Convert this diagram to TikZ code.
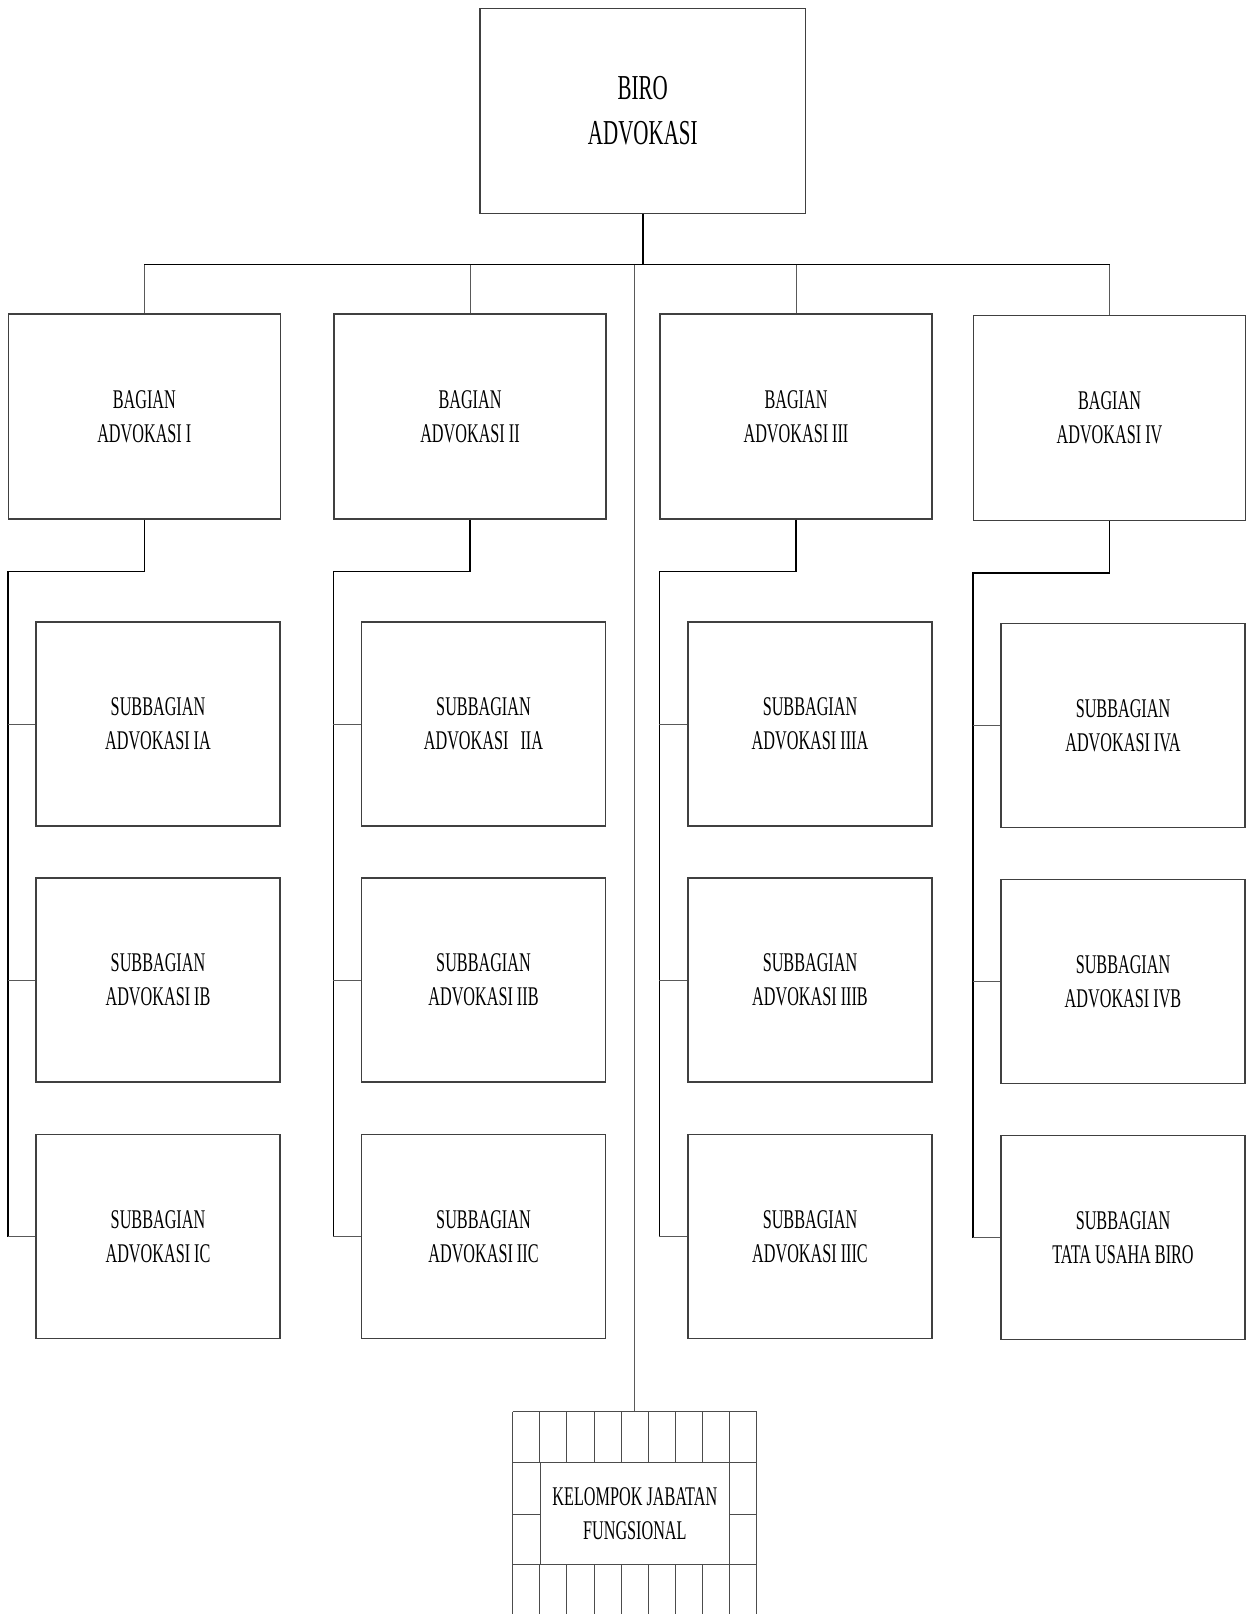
\documentclass[tikz,border=0pt]{standalone}
\usepackage{fontspec}
\newfontfamily\orgfont[FakeStretch=0.6]{Liberation Serif}
\begin{document}
\begin{tikzpicture}[x=1pt,y=-1pt,
  box/.style={draw=black!75, line width=1.1pt, rectangle, align=center, inner sep=0pt,
    font=\orgfont\fontsize{27}{34}\selectfont},
  bagbox/.style={box, minimum width=272pt, minimum height=205pt},
  subbox/.style={box, minimum width=244pt, minimum height=204pt},
  conn/.style={draw=black, line width=1.5pt},
  thin/.style={draw=black!65, line width=1pt},
  grid/.style={draw=black!70, line width=1pt}]
\useasboundingbox (0,0) rectangle (1248,1614);

% head of bureau
\node[box, minimum width=325.7pt, minimum height=204.7pt,
  font=\orgfont\fontsize{35}{45}\selectfont] (biro) at (642.8,110.7) {BIRO\\ADVOKASI};

% divisions
\node[bagbox] (b1) at (144.3,416.5) {BAGIAN\\ADVOKASI I};
\node[bagbox] (b2) at (470.0,416.5) {BAGIAN\\ADVOKASI II};
\node[bagbox] (b3) at (796.0,416.5) {BAGIAN\\ADVOKASI III};
\node[bagbox] (b4) at (1109.5,418.0) {BAGIAN\\ADVOKASI IV};

% subdivisions
\node[subbox] (s1a) at (158.0,724.0) {SUBBAGIAN\\ADVOKASI IA};
\node[subbox] (s1b) at (158.0,980.0) {SUBBAGIAN\\ADVOKASI IB};
\node[subbox] (s1c) at (158.0,1236.5) {SUBBAGIAN\\ADVOKASI IC};
\node[subbox] (s2a) at (483.5,724.0) {SUBBAGIAN\\ADVOKASI \ \ IIA};
\node[subbox] (s2b) at (483.5,980.0) {SUBBAGIAN\\ADVOKASI IIB};
\node[subbox] (s2c) at (483.5,1236.5) {SUBBAGIAN\\ADVOKASI IIC};
\node[subbox] (s3a) at (810.0,724.0) {SUBBAGIAN\\ADVOKASI IIIA};
\node[subbox] (s3b) at (810.0,980.0) {SUBBAGIAN\\ADVOKASI IIIB};
\node[subbox] (s3c) at (810.0,1236.5) {SUBBAGIAN\\ADVOKASI IIIC};
\node[subbox] (s4a) at (1123.0,725.5) {SUBBAGIAN\\ADVOKASI IVA};
\node[subbox] (s4b) at (1123.0,981.5) {SUBBAGIAN\\ADVOKASI IVB};
\node[subbox] (s4c) at (1123.0,1237.5) {SUBBAGIAN\\TATA USAHA BIRO};

% functional group (inner labelled panel)
\node[box, draw=black!70, line width=1pt, minimum width=189.7pt, minimum height=102pt] (kjf)
  at (634.85,1513.3) {KELOMPOK JABATAN\\FUNGSIONAL};

% main bus
\coordinate (bus) at (642.8,264.6);
\coordinate (kgtop) at (634.7,1411.7);
\draw[conn] (biro.south) -- (bus);
\draw[conn] (b1.north |- bus) -- (b4.north |- bus);
\foreach \b in {b1,b2,b3,b4}
  \draw[thin] (\b.north |- bus) -- (\b.north);
\draw[thin] (kgtop |- bus) -- (kgtop);

% division to subdivision connectors
\foreach \b/\s in {b1/s1,b2/s2,b3/s3,b4/s4}{
  \draw[conn] (\b.south) -- ++(0,52) -| (\b.west |- \s c.west);
  \foreach \r in {a,b,c}
    \draw[thin] (\b.west |- \s\r.west) -- (\s\r.west);
}

% surrounding grid of the functional group
\draw[grid] (512.7,1411.7) -- (756.7,1411.7);
\draw[grid] (512.7,1462.3) -- (756.7,1462.3);
\draw[grid] (512.7,1564.3) -- (756.7,1564.3);
\draw[grid] (512.7,1514.3) -- (540,1514.3);
\draw[grid] (729.7,1514.3) -- (756.7,1514.3);
\foreach \k in {0,...,9}{
  \pgfmathsetmacro{\gx}{512.7+27.11*\k}
  \draw[grid] (\gx,1411.7) -- (\gx,1462.3);
  \draw[grid] (\gx,1564.3) -- (\gx,1614);
}
\draw[grid] (512.7,1462.3) -- (512.7,1564.3);
\draw[grid] (756.7,1462.3) -- (756.7,1564.3);
\end{tikzpicture}
\end{document}
